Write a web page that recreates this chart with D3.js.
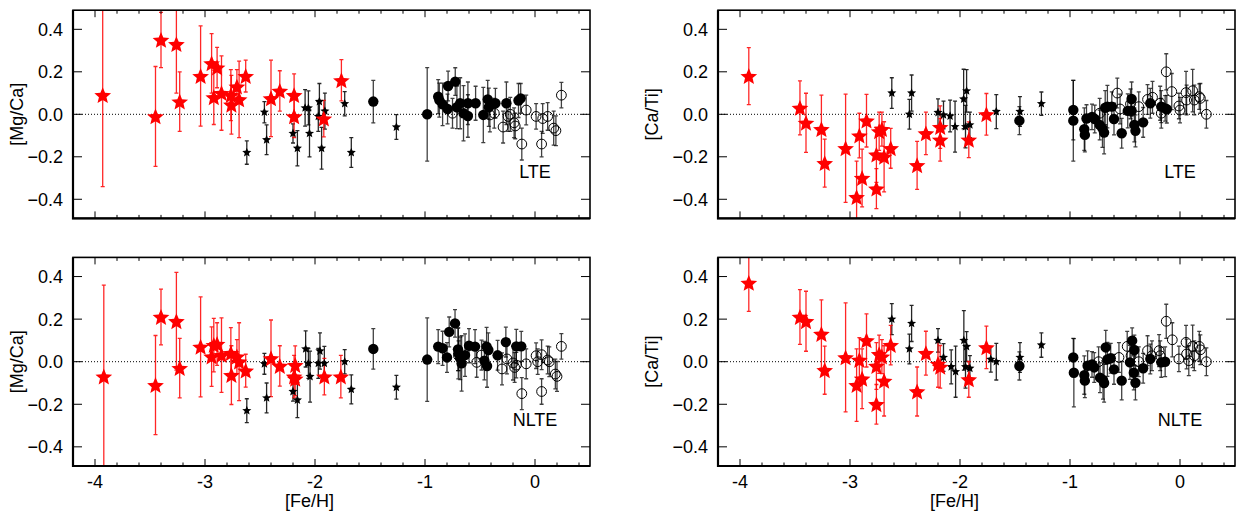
<!DOCTYPE html>
<html>
<head>
<meta charset="utf-8">
<script src="https://cdn.jsdelivr.net/npm/d3@7"></script>
<style>
  body { margin: 0; background: #fff; }
  svg { display: block; }
  text { font-family: "Liberation Sans", Arial, sans-serif; fill: #000; }
</style>
</head>
<body>
<div id="chart"></div>
<script>
const ancho = 1238;
const alto = 512;

// ---------------- datos: [Fe/H, valor, error] ----------------
const feTicks = [-4, -3, -2, -1, 0];
const yTicks = [-0.4, -0.2, 0.0, 0.2, 0.4];

// [Mg/Ca] LTE
const mgcaLteRed = [
  [-3.93, 0.09, 0.43], [-3.45, -0.01, 0.235], [-3.40, 0.35, 0.13], [-3.26, 0.33, 0.23],
  [-3.23, 0.06, 0.14], [-3.04, 0.18, 0.236], [-2.94, 0.24, 0.14], [-2.92, 0.08, 0.128],
  [-2.89, 0.22, 0.095], [-2.85, 0.10, 0.175], [-2.765, 0.09, 0.12], [-2.76, 0.045, 0.138],
  [-2.71, 0.13, 0.08], [-2.69, 0.07, 0.18], [-2.63, 0.18, 0.075], [-2.40, 0.075, 0.18],
  [-2.32, 0.11, 0.095], [-2.19, 0.09, 0.1], [-2.19, -0.01, 0.1], [-1.92, -0.02, 0.086],
  [-1.76, 0.16, 0.097]
];
const mgcaLteBlk = [
  [-2.62, -0.18, 0.055], [-2.46, 0.01, 0.05], [-2.44, -0.12, 0.07], [-2.20, -0.09, 0.045],
  [-2.16, -0.16, 0.083], [-2.09, 0.03, 0.086], [-2.06, 0.03, 0.08], [-2.05, -0.09, 0.11],
  [-1.97, -0.01, 0.07], [-1.96, 0.06, 0.085], [-1.94, -0.16, 0.098], [-1.91, 0.015, 0.085],
  [-1.73, 0.05, 0.057], [-1.67, -0.18, 0.07], [-1.26, -0.06, 0.058]
];
const mgcaLteFill = [
  [-1.47, 0.06, 0.1], [-0.98, 0.0, 0.22], [-0.88, 0.083, 0.08], [-0.87, 0.067, 0.08],
  [-0.84, 0.047, 0.1], [-0.79, 0.133, 0.07], [-0.795, 0.025, 0.07], [-0.725, 0.154, 0.065],
  [-0.71, 0.033, 0.1], [-0.68, 0.052, 0.12], [-0.65, 0.005, 0.13], [-0.61, 0.052, 0.1],
  [-0.61, -0.008, 0.1], [-0.54, 0.052, 0.08], [-0.47, -0.003, 0.13], [-0.43, 0.07, 0.09],
  [-0.42, 0.033, 0.09], [-0.36, 0.052, 0.07], [-0.26, 0.052, 0.1], [-0.15, 0.065, 0.08],
  [-0.13, 0.075, 0.07]
];
const mgcaLteOpen = [
  [-0.75, 0.005, 0.07], [-0.41, -0.003, 0.08], [-0.37, 0.005, 0.07], [-0.29, -0.06, 0.075],
  [-0.245, -0.01, 0.07], [-0.225, 0.0, 0.08], [-0.19, -0.04, 0.07], [-0.18, -0.055, 0.06],
  [-0.12, -0.14, 0.075], [-0.08, 0.02, 0.07], [0.01, -0.01, 0.06], [0.06, -0.14, 0.06],
  [0.07, -0.02, 0.07], [0.115, -0.01, 0.065], [0.17, -0.065, 0.08], [0.19, -0.077, 0.07],
  [0.24, 0.09, 0.06]
];

// [Ca/Ti] LTE
const catiLteRed = [
  [-3.92, 0.18, 0.134], [-3.455, 0.03, 0.127], [-3.40, -0.04, 0.139], [-3.26, -0.07, 0.16],
  [-3.23, -0.23, 0.113], [-3.04, -0.16, 0.255], [-2.94, -0.39, 0.17], [-2.915, -0.10, 0.105],
  [-2.89, -0.30, 0.136], [-2.85, -0.03, 0.124], [-2.76, -0.19, 0.13], [-2.76, -0.35, 0.094],
  [-2.735, -0.08, 0.09], [-2.71, -0.07, 0.08], [-2.69, -0.20, 0.165], [-2.63, -0.16, 0.094],
  [-2.39, -0.24, 0.113], [-2.31, -0.09, 0.1], [-2.18, -0.06, 0.1], [-2.18, -0.12, 0.1],
  [-1.92, -0.12, 0.084], [-1.76, 0.0, 0.098]
];
const catiLteBlk = [
  [-2.62, 0.10, 0.072], [-2.46, 0.0, 0.07], [-2.44, 0.10, 0.085], [-2.20, 0.008, 0.065],
  [-2.15, -0.003, 0.065], [-2.09, -0.008, 0.075], [-2.045, -0.058, 0.12], [-1.967, 0.072, 0.14],
  [-1.94, 0.11, 0.1], [-1.95, -0.058, 0.1], [-1.91, -0.05, 0.06], [-1.67, 0.013, 0.08],
  [-1.455, 0.013, 0.07], [-1.26, 0.05, 0.055]
];
const catiLteFill = [
  [-1.46, -0.03, 0.066], [-0.97, 0.02, 0.14], [-0.97, -0.03, 0.19], [-0.87, -0.07, 0.1],
  [-0.865, -0.097, 0.08], [-0.85, -0.02, 0.065], [-0.80, -0.012, 0.06], [-0.775, -0.022, 0.065],
  [-0.73, -0.05, 0.07], [-0.705, -0.066, 0.09], [-0.69, -0.086, 0.1], [-0.68, 0.031, 0.08],
  [-0.66, 0.036, 0.1], [-0.62, 0.036, 0.07], [-0.60, -0.022, 0.075], [-0.53, -0.089, 0.07],
  [-0.475, 0.016, 0.08], [-0.44, 0.072, 0.08], [-0.44, 0.016, 0.07], [-0.415, -0.05, 0.08],
  [-0.405, -0.078, 0.075], [-0.335, -0.038, 0.07], [-0.27, 0.052, 0.07], [-0.17, 0.036, 0.075],
  [-0.135, 0.028, 0.06], [-0.12, 0.024, 0.065]
];
const catiLteOpen = [
  [-0.73, 0.005, 0.07], [-0.57, 0.10, 0.07], [-0.545, 0.025, 0.07], [-0.45, 0.049, 0.07],
  [-0.375, 0.036, 0.07], [-0.295, 0.07, 0.07], [-0.25, 0.08, 0.075], [-0.18, 0.052, 0.08],
  [-0.17, 0.005, 0.07], [-0.125, 0.20, 0.085], [-0.075, 0.107, 0.085], [-0.01, 0.039, 0.06],
  [0.0, 0.02, 0.06], [0.055, 0.102, 0.1], [0.06, 0.067, 0.07], [0.115, 0.111, 0.1],
  [0.13, 0.067, 0.07], [0.175, 0.083, 0.06], [0.185, 0.075, 0.07], [0.24, 0.0, 0.065]
];

// [Mg/Ca] NLTE
const mgcaNlteRed = [
  [-3.92, -0.07, 0.43], [-3.45, -0.11, 0.233], [-3.40, 0.21, 0.131], [-3.26, 0.19, 0.23],
  [-3.23, -0.03, 0.14], [-3.04, 0.07, 0.235], [-2.94, 0.024, 0.14], [-2.92, 0.078, 0.126],
  [-2.89, 0.083, 0.1], [-2.85, 0.031, 0.175], [-2.765, 0.04, 0.12], [-2.76, -0.063, 0.138],
  [-2.71, 0.024, 0.08], [-2.69, 0.0, 0.183], [-2.63, -0.042, 0.077], [-2.40, 0.016, 0.18],
  [-2.32, -0.02, 0.095], [-2.18, -0.016, 0.09], [-2.19, -0.07, 0.1], [-2.18, -0.08, 0.08],
  [-1.915, -0.07, 0.086], [-1.765, -0.07, 0.1]
];
const mgcaNlteBlk = [
  [-2.62, -0.23, 0.056], [-2.46, -0.01, 0.049], [-2.44, -0.17, 0.07], [-2.20, -0.14, 0.045],
  [-2.16, -0.18, 0.083], [-2.085, 0.06, 0.085], [-2.06, -0.008, 0.07], [-2.045, -0.07, 0.12],
  [-1.97, -0.008, 0.07], [-1.955, 0.05, 0.085], [-1.915, -0.008, 0.08], [-1.73, 0.0, 0.057],
  [-1.67, -0.13, 0.068], [-1.26, -0.12, 0.056]
];
const mgcaNlteFill = [
  [-1.47, 0.06, 0.095], [-0.98, 0.01, 0.196], [-0.88, 0.071, 0.08], [-0.84, 0.063, 0.08],
  [-0.80, 0.02, 0.07], [-0.78, 0.14, 0.07], [-0.727, 0.18, 0.065], [-0.70, 0.058, 0.1],
  [-0.697, 0.039, 0.12], [-0.68, 0.016, 0.1], [-0.667, -0.008, 0.13], [-0.636, 0.031, 0.1],
  [-0.60, 0.075, 0.08], [-0.545, 0.071, 0.08], [-0.46, 0.005, 0.09], [-0.44, 0.071, 0.09],
  [-0.436, -0.02, 0.1], [-0.424, 0.055, 0.08], [-0.34, 0.03, 0.07], [-0.265, 0.092, 0.07],
  [-0.17, 0.072, 0.08], [-0.125, 0.072, 0.07]
];
const mgcaNlteOpen = [
  [-0.695, 0.028, 0.07], [-0.53, -0.003, 0.07], [-0.486, 0.031, 0.07], [-0.30, -0.034, 0.075],
  [-0.255, 0.013, 0.07], [-0.20, -0.006, 0.08], [-0.185, -0.027, 0.07], [-0.17, -0.016, 0.06],
  [-0.12, -0.15, 0.075], [-0.08, -0.01, 0.07], [0.01, 0.028, 0.06], [0.025, 0.0, 0.06],
  [0.06, 0.033, 0.07], [0.06, -0.14, 0.06], [0.115, 0.008, 0.065], [0.13, 0.0, 0.07],
  [0.185, -0.058, 0.07], [0.2, -0.069, 0.07], [0.24, 0.072, 0.06]
];

// [Ca/Ti] NLTE
const catiNlteRed = [
  [-3.92, 0.37, 0.134], [-3.455, 0.21, 0.129], [-3.40, 0.19, 0.141], [-3.26, 0.13, 0.16],
  [-3.23, -0.04, 0.113], [-3.04, 0.02, 0.256], [-2.94, -0.11, 0.17], [-2.915, 0.008, 0.105],
  [-2.89, -0.08, 0.14], [-2.85, 0.10, 0.125], [-2.76, -0.20, 0.093], [-2.76, -0.02, 0.11],
  [-2.735, 0.035, 0.09], [-2.71, 0.024, 0.08], [-2.69, -0.09, 0.165], [-2.63, 0.078, 0.093],
  [-2.39, -0.14, 0.115], [-2.31, 0.04, 0.103], [-2.20, -0.01, 0.11], [-2.18, -0.024, 0.1],
  [-1.92, -0.083, 0.084], [-1.76, 0.067, 0.1]
];
const catiNlteBlk = [
  [-2.62, 0.20, 0.073], [-2.46, 0.06, 0.07], [-2.44, 0.18, 0.085], [-2.20, 0.10, 0.055],
  [-2.15, 0.02, 0.065], [-2.08, -0.024, 0.08], [-2.04, -0.047, 0.12], [-1.965, 0.10, 0.14],
  [-1.94, 0.071, 0.07], [-1.95, -0.024, 0.1], [-1.91, -0.031, 0.06], [-1.72, 0.011, 0.06],
  [-1.67, 0.0, 0.086], [-1.455, 0.02, 0.07], [-1.26, 0.078, 0.057]
];
const catiNlteFill = [
  [-1.46, -0.02, 0.066], [-0.97, 0.02, 0.09], [-0.965, -0.052, 0.16], [-0.87, -0.063, 0.09],
  [-0.865, -0.089, 0.08], [-0.84, -0.019, 0.07], [-0.80, -0.013, 0.06], [-0.78, -0.027, 0.07],
  [-0.727, -0.075, 0.07], [-0.70, -0.086, 0.09], [-0.69, -0.10, 0.09], [-0.675, 0.067, 0.08],
  [-0.66, 0.011, 0.08], [-0.63, 0.016, 0.07], [-0.60, -0.036, 0.07], [-0.53, -0.089, 0.09],
  [-0.455, -0.003, 0.08], [-0.435, 0.099, 0.06], [-0.415, 0.055, 0.07], [-0.42, -0.052, 0.08],
  [-0.405, -0.099, 0.08], [-0.335, -0.031, 0.07], [-0.27, 0.013, 0.07], [-0.17, -0.003, 0.07],
  [-0.135, 0.0, 0.07]
];
const catiNlteOpen = [
  [-0.74, 0.0, 0.07], [-0.555, 0.02, 0.07], [-0.48, 0.072, 0.07], [-0.445, 0.028, 0.07],
  [-0.375, 0.0, 0.07], [-0.295, 0.052, 0.07], [-0.255, 0.028, 0.07], [-0.19, 0.052, 0.075],
  [-0.18, 0.028, 0.07], [-0.125, 0.19, 0.08], [-0.07, 0.103, 0.08], [-0.01, 0.013, 0.06],
  [0.055, 0.091, 0.08], [0.06, 0.036, 0.07], [0.08, 0.005, 0.07], [0.115, 0.072, 0.1],
  [0.13, 0.028, 0.07], [0.175, 0.072, 0.07], [0.185, 0.056, 0.07], [0.24, 0.0, 0.065]
];

// ---------------- paneles ----------------
const xDominio = [-4.2, 0.5];
const yDominio = [-0.49, 0.49];
const paneles = [
  { id: "p1", xr: [73, 590], yr: [218.4, 10.2], ylab: "[Mg/Ca]", ylabX: 17, tag: "LTE", labelsX: false,
    red: mgcaLteRed, blk: mgcaLteBlk, fill: mgcaLteFill, open: mgcaLteOpen },
  { id: "p2", xr: [718, 1235], yr: [218.4, 10.2], ylab: "[Ca/Ti]", ylabX: 652, tag: "LTE", labelsX: false,
    red: catiLteRed, blk: catiLteBlk, fill: catiLteFill, open: catiLteOpen },
  { id: "p3", xr: [73, 590], yr: [466, 257.4], ylab: "[Mg/Ca]", ylabX: 17, tag: "NLTE", labelsX: true,
    red: mgcaNlteRed, blk: mgcaNlteBlk, fill: mgcaNlteFill, open: mgcaNlteOpen },
  { id: "p4", xr: [718, 1235], yr: [466, 257.4], ylab: "[Ca/Ti]", ylabX: 652, tag: "NLTE", labelsX: true,
    red: catiNlteRed, blk: catiNlteBlk, fill: catiNlteFill, open: catiNlteOpen },
];

const svg = d3.select("#chart").append("svg")
  .attr("width", ancho)
  .attr("height", alto);

// estrella de 5 puntas algo gruesa
function estrella(r, k) {
  const pts = d3.range(10).map((i) => {
    const a = (i * Math.PI) / 5 - Math.PI / 2;
    const rr = i % 2 === 0 ? r : r * k;
    return [rr * Math.cos(a), rr * Math.sin(a)];
  });
  return d3.line()(pts) + "Z";
}
const fmt = d3.format(".1f");
const minorX = d3.range(-21, 3).filter((i) => i % 5 !== 0).map((i) => i / 5);
const fs = 18;

paneles.forEach((p) => {
  const x = d3.scaleLinear().domain(xDominio).range(p.xr);
  const y = d3.scaleLinear().domain(yDominio).range(p.yr);
  const [x0, x1] = p.xr;
  const [yb, yt] = p.yr;

  const g = svg.append("g").attr("id", p.id);

  g.append("clipPath").attr("id", "clip-" + p.id)
    .append("rect")
    .attr("x", x0).attr("y", yt)
    .attr("width", x1 - x0).attr("height", yb - yt);

  // linea punteada en cero
  g.append("line")
    .attr("x1", x0).attr("x2", x1)
    .attr("y1", y(0)).attr("y2", y(0))
    .attr("stroke", "#000")
    .attr("stroke-width", 1)
    .attr("stroke-dasharray", "1,2");

  const datos = g.append("g").attr("clip-path", `url(#clip-${p.id})`);

  // barras de error
  const grupos = [
    { d: p.open, color: "#000", op: 0.75 },
    { d: p.fill, color: "#000", op: 0.75 },
    { d: p.blk, color: "#000", op: 0.85 },
    { d: p.red, color: "#ff0000", op: 0.85 },
  ];
  grupos.forEach((gr) => {
    const eb = datos.append("g")
      .attr("stroke", gr.color)
      .attr("stroke-opacity", gr.op)
      .attr("stroke-width", 1.3)
      .attr("fill", "none");
    eb.selectAll("path").data(gr.d).join("path")
      .attr("d", (d) => {
        const cx = x(d[0]), lo = y(d[1] - d[2]), hi = y(d[1] + d[2]);
        return `M${cx},${lo}V${hi}M${cx - 2},${hi}H${cx + 2}M${cx - 2},${lo}H${cx + 2}`;
      });
  });

  // marcadores
  datos.append("g").selectAll("circle").data(p.open).join("circle")
    .attr("cx", (d) => x(d[0])).attr("cy", (d) => y(d[1]))
    .attr("r", 4.9)
    .attr("fill", "none")
    .attr("stroke", "#000")
    .attr("stroke-width", 1);

  datos.append("g").selectAll("circle").data(p.fill).join("circle")
    .attr("cx", (d) => x(d[0])).attr("cy", (d) => y(d[1]))
    .attr("r", 5.2)
    .attr("fill", "#000");

  datos.append("g").selectAll("path").data(p.blk).join("path")
    .attr("transform", (d) => `translate(${x(d[0])},${y(d[1])})`)
    .attr("d", estrella(4.8, 0.45))
    .attr("fill", "#000");

  datos.append("g").selectAll("path").data(p.red).join("path")
    .attr("transform", (d) => `translate(${x(d[0])},${y(d[1]) + 0.8})`)
    .attr("d", estrella(8.8, 0.45))
    .attr("fill", "#ff0000");

  // marco
  g.append("rect")
    .attr("x", x0).attr("y", yt)
    .attr("width", x1 - x0).attr("height", yb - yt)
    .attr("fill", "none")
    .attr("stroke", "#000")
    .attr("stroke-width", 1.6);
  g.append("path")
    .attr("d", `M${x0},${yt}V${yb}H${x1}`)
    .attr("fill", "none")
    .attr("stroke", "#000")
    .attr("stroke-width", 2.2);

  // ticks
  const ticks = g.append("g").attr("stroke", "#000").attr("stroke-width", 1);
  feTicks.forEach((t) => {
    ticks.append("line").attr("x1", x(t)).attr("x2", x(t)).attr("y1", yb).attr("y2", yb - 7);
    ticks.append("line").attr("x1", x(t)).attr("x2", x(t)).attr("y1", yt).attr("y2", yt + 7);
  });
  minorX.forEach((t) => {
    ticks.append("line").attr("x1", x(t)).attr("x2", x(t)).attr("y1", yb).attr("y2", yb - 3.5);
    ticks.append("line").attr("x1", x(t)).attr("x2", x(t)).attr("y1", yt).attr("y2", yt + 3.5);
  });
  yTicks.forEach((t) => {
    ticks.append("line").attr("x1", x0).attr("x2", x0 + 9).attr("y1", y(t)).attr("y2", y(t));
    ticks.append("line").attr("x1", x1).attr("x2", x1 - 9).attr("y1", y(t)).attr("y2", y(t));
  });

  // etiquetas
  g.append("g").selectAll("text").data(yTicks).join("text")
    .attr("x", x0 - 10)
    .attr("y", (d) => y(d))
    .attr("dy", "0.36em")
    .attr("text-anchor", "end")
    .attr("font-size", fs)
    .text((d) => fmt(d));

  if (p.labelsX) {
    g.append("g").selectAll("text").data(feTicks).join("text")
      .attr("x", (d) => x(d))
      .attr("y", yb + 22)
      .attr("text-anchor", "middle")
      .attr("font-size", fs)
      .text((d) => d);
    g.append("text")
      .attr("x", x(-2.05))
      .attr("y", yb + 41)
      .attr("text-anchor", "middle")
      .attr("font-size", fs)
      .text("[Fe/H]");
  }

  g.append("text")
    .attr("transform", `translate(${p.ylabX},${(yb + yt) / 2}) rotate(-90)`)
    .attr("dy", "0.36em")
    .attr("text-anchor", "middle")
    .attr("font-size", fs)
    .text(p.ylab);

  g.append("text")
    .attr("x", x(0))
    .attr("y", y(-0.27))
    .attr("dy", "0.36em")
    .attr("text-anchor", "middle")
    .attr("font-size", fs)
    .text(p.tag);
});
</script>
</body>
</html>
